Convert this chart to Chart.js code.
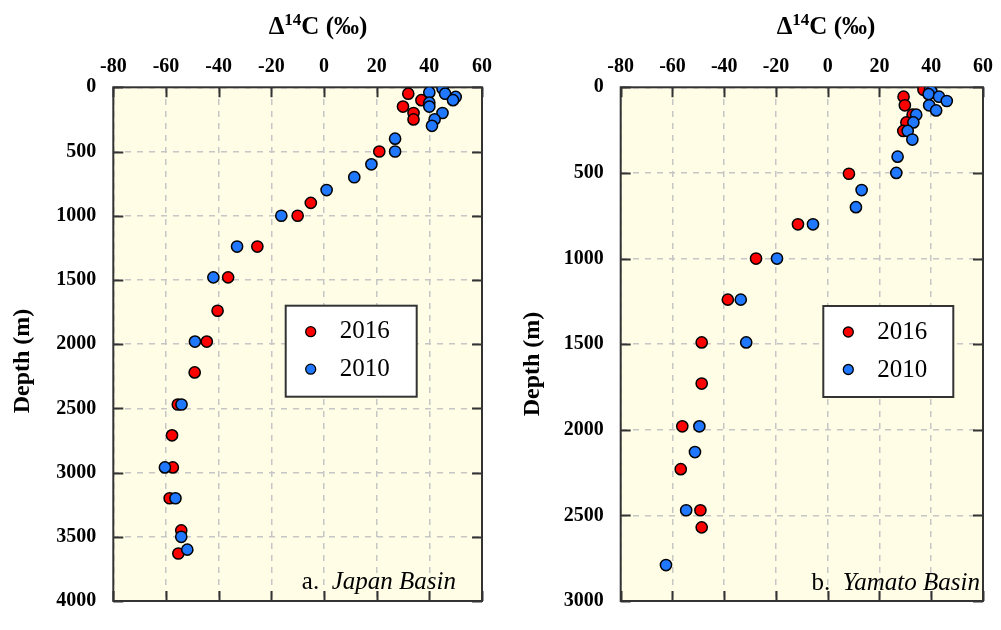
<!DOCTYPE html>
<html>
<head>
<meta charset="utf-8">
<script src="https://cdn.jsdelivr.net/npm/chart.js@4/dist/chart.umd.min.js"></script>
<style>
  html, body { margin: 0; padding: 0; background: #ffffff; }
  #wrap { position: relative; width: 1001px; height: 630px; overflow: hidden; }
  canvas { position: absolute; top: 0; }
</style>
</head>
<body>
<div id="wrap">
  <canvas id="japan" width="500" height="630" style="left:0px"></canvas>
  <canvas id="yamato" width="501" height="630" style="left:500px"></canvas>
</div>
<script>
// Radiocarbon (Δ14C, ‰) profiles against depth (m), two basins, two survey years.
const seriesLabels = ['2016', '2010'];
const deltaTicks = [-80, -60, -40, -20, 0, 20, 40, 60];
const japanDepthTicks = [0, 500, 1000, 1500, 2000, 2500, 3000, 3500, 4000];
const yamatoDepthTicks = [0, 500, 1000, 1500, 2000, 2500, 3000];

// Japan Basin, 2016
const japan2016Delta = [32, 37, 30, 34, 34, 21, -5, -10, -25.3, -36.4, -40.4, -44.5, -49.1, -55.5, -57.7, -57.4, -58.6, -54.2, -55.3];
const japan2016Depth = [50, 100, 150, 200, 250, 500, 900, 1000, 1240, 1480, 1740, 1980, 2220, 2470, 2710, 2960, 3200, 3450, 3630];
// Japan Basin, 2010
const japan2010Delta = [45, 40, 46, 50, 49, 40, 40, 45, 42, 41, 27, 27, 18, 11.5, 1, -16.2, -33, -42, -49, -54.1, -60.4, -56.4, -54.2, -51.9];
const japan2010Depth = [10, 40, 50, 75, 100, 120, 150, 200, 250, 300, 400, 500, 600, 700, 800, 1000, 1240, 1480, 1980, 2470, 2960, 3200, 3500, 3600];

// Yamato Basin, 2016
const yamato2016Delta = [37, 29.3, 29.8, 32.8, 30.4, 29.2, 8.2, -11.5, -27.7, -38.6, -48.7, -48.7, -56.2, -56.8, -49.2, -48.7];
const yamato2016Depth = [15, 55, 105, 160, 205, 255, 505, 800, 1000, 1240, 1490, 1730, 1980, 2230, 2470, 2570];
// Yamato Basin, 2010
const yamato2010Delta = [39.5, 40.1, 39, 43, 46, 39.2, 41.9, 34.2, 33.1, 30.9, 32.7, 27, 26.5, 13.1, 10.9, -5.7, -19.6, -33.6, -31.5, -49.6, -51.3, -54.7, -62.5];
const yamato2010Depth = [15, 25, 40, 55, 80, 105, 135, 160, 205, 255, 305, 405, 500, 600, 700, 800, 1000, 1240, 1490, 1980, 2130, 2470, 2790];

const SERIF = '"Liberation Serif", "Times New Roman", Times, serif';
const RED = '#ff0000';
const BLUE = '#1f78ff';
const FRAME = '#333333';
const TICK_LEN = 10;

function zipPoints(xs, ys) {
  return xs.map((v, i) => ({ x: v, y: ys[i] }));
}

// Background, frame with inward ticks, titles, legend and panel caption.
const panelDecor = {
  id: 'panelDecor',
  beforeDraw(chart, args, o) {
    const { ctx, chartArea: a } = chart;
    ctx.save();
    ctx.fillStyle = o.bg;
    ctx.fillRect(a.left, a.top, a.right - a.left, a.bottom - a.top);
    ctx.restore();
  },
  beforeDatasetsDraw(chart, args, o) {
    const { ctx, chartArea: a } = chart;
    const xs = chart.scales.x, ys = chart.scales.y;
    ctx.save();
    ctx.strokeStyle = FRAME;
    ctx.lineWidth = 2;
    ctx.setLineDash([]);
    ctx.beginPath();
    xs.ticks.forEach(t => {
      const px = Math.round(xs.getPixelForValue(t.value)) + 0.5;
      ctx.moveTo(px, a.top); ctx.lineTo(px, a.top + TICK_LEN);
      ctx.moveTo(px, a.bottom); ctx.lineTo(px, a.bottom - TICK_LEN);
    });
    ys.ticks.forEach(t => {
      const py = Math.round(ys.getPixelForValue(t.value)) + 0.5;
      ctx.moveTo(a.left, py); ctx.lineTo(a.left + TICK_LEN, py);
      ctx.moveTo(a.right, py); ctx.lineTo(a.right - TICK_LEN, py);
    });
    ctx.stroke();
    ctx.strokeRect(a.left, a.top, a.right - a.left, a.bottom - a.top);
    ctx.restore();
  },
  afterDraw(chart, args, o) {
    const { ctx } = chart;
    ctx.save();
    ctx.fillStyle = '#000';

    // Axis title: Δ14C (‰) with superscript mass number
    const mainFont = `bold 25px ${SERIF}`;
    const supFont = `bold 17px ${SERIF}`;
    ctx.font = mainFont;
    const wD = ctx.measureText('\u0394').width;
    const wRest = ctx.measureText('C (\u2030)').width;
    ctx.font = supFont;
    const wSup = ctx.measureText('14').width;
    let tx = o.titleX - (wD + wSup + wRest) / 2;
    ctx.textBaseline = 'alphabetic';
    ctx.textAlign = 'left';
    ctx.font = mainFont;
    ctx.fillText('\u0394', tx, o.titleY);
    tx += wD;
    ctx.font = supFont;
    ctx.fillText('14', tx, o.titleY - 9);
    tx += wSup;
    ctx.font = mainFont;
    ctx.fillText('C (\u2030)', tx, o.titleY);

    // Vertical axis title
    ctx.save();
    ctx.translate(o.yTitleX, o.yTitleY);
    ctx.rotate(-Math.PI / 2);
    ctx.textAlign = 'center';
    ctx.textBaseline = 'middle';
    ctx.font = `bold 24px ${SERIF}`;
    ctx.fillText('Depth (m)', 0, 0);
    ctx.restore();

    // Panel caption, e.g. "a.  Japan Basin"
    const capFont = `25px ${SERIF}`;
    const capItalic = `italic 25px ${SERIF}`;
    ctx.font = capFont;
    const wPre = ctx.measureText(o.capPrefix).width;
    ctx.font = capItalic;
    const wName = ctx.measureText(o.capName).width;
    let cx = o.capRight - wPre - wName;
    ctx.textAlign = 'left';
    ctx.textBaseline = 'alphabetic';
    ctx.font = capFont;
    ctx.fillText(o.capPrefix, cx, o.capY);
    ctx.font = capItalic;
    ctx.fillText(o.capName, cx + wPre, o.capY);

    // Legend box
    const L = o.legend;
    ctx.fillStyle = '#ffffff';
    ctx.fillRect(L.x, L.y, L.w, L.h);
    ctx.strokeStyle = FRAME;
    ctx.lineWidth = 2;
    ctx.strokeRect(L.x, L.y, L.w, L.h);
    const byLabel = {};
    chart.data.datasets.forEach(ds => { byLabel[ds.label] = ds; });
    seriesLabels.forEach((lab, i) => {
      const ds = byLabel[lab];
      const my = L.y + 26 + i * 37.5;
      ctx.beginPath();
      ctx.arc(L.x + 25, my, 5, 0, Math.PI * 2);
      ctx.fillStyle = ds.backgroundColor;
      ctx.fill();
      ctx.lineWidth = 1.3;
      ctx.strokeStyle = '#000';
      ctx.stroke();
      ctx.fillStyle = '#000';
      ctx.font = `25px ${SERIF}`;
      ctx.textAlign = 'left';
      ctx.textBaseline = 'alphabetic';
      ctx.fillText(lab, L.x + 54, L.y + 32.5 + i * 38);
    });
    ctx.restore();
  }
};

function makePanel(canvasId, cfg) {
  const W = cfg.width, H = 630, A = cfg.area;
  const gridCommon = {
    color: '#c6c6c6',
    lineWidth: 1.5,
    drawTicks: false,
  };
  const tickFont = { family: SERIF, size: 20, weight: 'bold' };
  return new Chart(document.getElementById(canvasId), {
    type: 'scatter',
    data: {
      datasets: [
        {
          label: seriesLabels[0],
          data: zipPoints(cfg.d2016, cfg.z2016),
          backgroundColor: RED,
          borderColor: '#000',
          borderWidth: 1.5,
          pointRadius: 5.6,
          order: 1
        },
        {
          label: seriesLabels[1],
          data: zipPoints(cfg.d2010, cfg.z2010),
          backgroundColor: BLUE,
          borderColor: '#000',
          borderWidth: 1.5,
          pointRadius: 5.6,
          order: 0
        }
      ]
    },
    options: {
      responsive: false,
      animation: false,
      devicePixelRatio: 1,
      layout: { padding: { left: 0, top: 0, right: W - A.right, bottom: H - A.bottom } },
      plugins: {
        legend: { display: false },
        tooltip: { enabled: false },
        panelDecor: cfg.decor
      },
      scales: {
        x: {
          type: 'linear',
          position: 'top',
          min: deltaTicks[0],
          max: deltaTicks[deltaTicks.length - 1],
          afterBuildTicks(scale) { scale.ticks = deltaTicks.map(v => ({ value: v })); },
          afterFit(scale) { scale.height = A.top; },
          grid: gridCommon,
          border: { display: false, dash: [6, 6] },
          ticks: {
            autoSkip: false,
            maxRotation: 0,
            padding: 8,
            color: '#000',
            font: tickFont,
            callback: v => String(v)
          }
        },
        y: {
          type: 'linear',
          position: 'left',
          reverse: true,
          min: cfg.depthTicks[0],
          max: cfg.depthTicks[cfg.depthTicks.length - 1],
          afterBuildTicks(scale) { scale.ticks = cfg.depthTicks.map(v => ({ value: v })); },
          afterFit(scale) { scale.width = A.left; },
          grid: gridCommon,
          border: { display: false, dash: [6, 6] },
          ticks: {
            autoSkip: false,
            padding: 17,
            color: '#000',
            font: tickFont,
            callback: v => String(v)
          }
        }
      }
    },
    plugins: [panelDecor]
  });
}

makePanel('japan', {
  width: 500,
  area: { left: 113.3, right: 484, top: 87.3, bottom: 618.3 },
  depthTicks: japanDepthTicks,
  d2016: japan2016Delta, z2016: japan2016Depth,
  d2010: japan2010Delta, z2010: japan2010Depth,
  decor: {
    bg: '#fffde6',
    titleX: 318, titleY: 34,
    yTitleX: 23, yTitleY: 361,
    capPrefix: 'a.  ', capName: 'Japan Basin', capRight: 456, capY: 589,
    legend: { x: 285.7, y: 305.7, w: 131, h: 91 }
  }
});

makePanel('yamato', {
  width: 501,
  area: { left: 120.7, right: 491.7, top: 87.3, bottom: 618.3 },
  depthTicks: yamatoDepthTicks,
  d2016: yamato2016Delta, z2016: yamato2016Depth,
  d2010: yamato2010Delta, z2010: yamato2010Depth,
  decor: {
    bg: '#fffde6',
    titleX: 326, titleY: 34,
    yTitleX: 33, yTitleY: 364,
    capPrefix: 'b.  ', capName: 'Yamato Basin', capRight: 480, capY: 590,
    legend: { x: 323.3, y: 306, w: 130, h: 91 }
  }
});
</script>
</body>
</html>
